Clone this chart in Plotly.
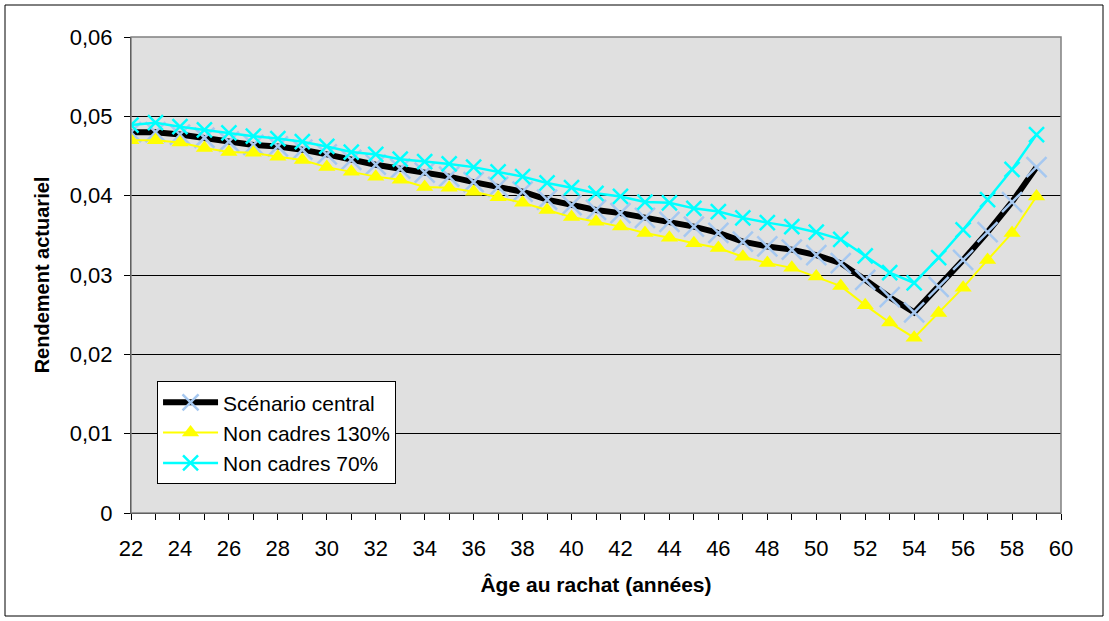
import plotly.graph_objects as go

ages = list(range(22, 60))

central = [0.0480, 0.0480, 0.0477, 0.0473, 0.0468, 0.0464, 0.0462, 0.0458, 0.0452, 0.0445,
           0.0439, 0.0434, 0.0429, 0.0424, 0.0417, 0.0411, 0.0405, 0.0395, 0.0388, 0.0382,
           0.0378, 0.0372, 0.0367, 0.0361, 0.0353, 0.0342, 0.0336, 0.0332, 0.0325, 0.0315,
           0.0294, 0.0272, 0.0253, 0.0285, 0.0319, 0.0354, 0.0392, 0.0436]

non_cadres_130 = [0.0470, 0.0470, 0.0467, 0.0460, 0.0455, 0.0454, 0.0449, 0.0445, 0.0436, 0.0430,
                  0.0424, 0.0420, 0.0411, 0.0410, 0.0405, 0.0398, 0.0391, 0.0382, 0.0373, 0.0367,
                  0.0361, 0.0353, 0.0347, 0.0340, 0.0334, 0.0323, 0.0315, 0.0309, 0.0298, 0.0286,
                  0.0262, 0.0240, 0.0221, 0.0252, 0.0284, 0.0319, 0.0353, 0.0399]

non_cadres_70 = [0.0489, 0.0492, 0.0487, 0.0483, 0.0479, 0.0475, 0.0472, 0.0468, 0.0462, 0.0455,
                 0.0452, 0.0446, 0.0443, 0.0440, 0.0436, 0.0430, 0.0424, 0.0416, 0.0410, 0.0403,
                 0.0399, 0.0392, 0.0391, 0.0384, 0.0380, 0.0372, 0.0366, 0.0361, 0.0354, 0.0345,
                 0.0324, 0.0303, 0.0290, 0.0322, 0.0357, 0.0395, 0.0433, 0.0477]

y_tickvals = [0, 0.01, 0.02, 0.03, 0.04, 0.05, 0.06]
y_ticktext = ["0", "0,01", "0,02", "0,03", "0,04", "0,05", "0,06"]
x_tickvals = list(range(22, 61, 2))

FONT = "Liberation Sans, Arial, sans-serif"

fig = go.Figure()
fig.add_trace(go.Scatter(
    x=ages, y=central, name="Scénario central", mode="lines+markers",
    line=dict(color="black", width=6),
    marker=dict(symbol="x-thin", size=20, line=dict(color="#A6C8F0", width=2.5), color="#A6C8F0"),
))
fig.add_trace(go.Scatter(
    x=ages, y=non_cadres_130, name="Non cadres 130%", mode="lines+markers",
    line=dict(color="#FFFF00", width=2),
    marker=dict(symbol="triangle-up", size=15, color="#FFFF00"),
))
fig.add_trace(go.Scatter(
    x=ages, y=non_cadres_70, name="Non cadres 70%", mode="lines+markers",
    line=dict(color="#00FFFF", width=2.5),
    marker=dict(symbol="x-thin", size=15, line=dict(color="#00FFFF", width=2.5), color="#00FFFF"),
))

fig.update_layout(
    width=1109, height=621,
    margin=dict(l=131, r=48, t=37, b=108),
    paper_bgcolor="white",
    plot_bgcolor="#E0E0E0",
    font=dict(family=FONT, size=22, color="black"),
    showlegend=True,
    legend=dict(
        x=0.028, y=0.277, xanchor="left", yanchor="top",
        bgcolor="white", bordercolor="black", borderwidth=1,
        font=dict(family=FONT, size=21, color="black"),
        itemwidth=55, tracegroupgap=0,
    ),
    xaxis=dict(
        range=[22, 60], tickvals=x_tickvals, ticks="outside", ticklen=6, tickcolor="black",
        minor=dict(dtick=1, ticks="outside", ticklen=6, tickcolor="black", showgrid=False),
        showgrid=False, zeroline=False, showline=True, linecolor="black", linewidth=1, mirror=False,
        ticklabelstandoff=10,
        title=dict(text="<b>Âge au rachat (années)</b>", font=dict(family=FONT, size=21), standoff=16),
        tickfont=dict(family=FONT, size=22),
    ),
    yaxis=dict(
        range=[0, 0.06], tickvals=y_tickvals, ticktext=y_ticktext, ticks="outside", ticklen=6,
        tickcolor="black", showgrid=True, gridcolor="black", gridwidth=1, zeroline=False,
        showline=True, linecolor="black", linewidth=1,
        ticklabelstandoff=7,
        title=dict(text="<b>Rendement actuariel</b>", font=dict(family=FONT, size=20), standoff=14),
        tickfont=dict(family=FONT, size=22),
    ),
    shapes=[
        dict(type="rect", xref="paper", yref="paper", x0=0, x1=1, y0=0, y1=1,
             line=dict(color="#808080", width=1.5), layer="above"),
        dict(type="rect", xref="paper", yref="paper",
             x0=(5 - 131) / 930, x1=(1103 - 131) / 930,
             y0=(513 - 616) / 476, y1=(513 - 5) / 476,
             line=dict(color="black", width=1)),
    ],
)

fig.write_html("out.html")
